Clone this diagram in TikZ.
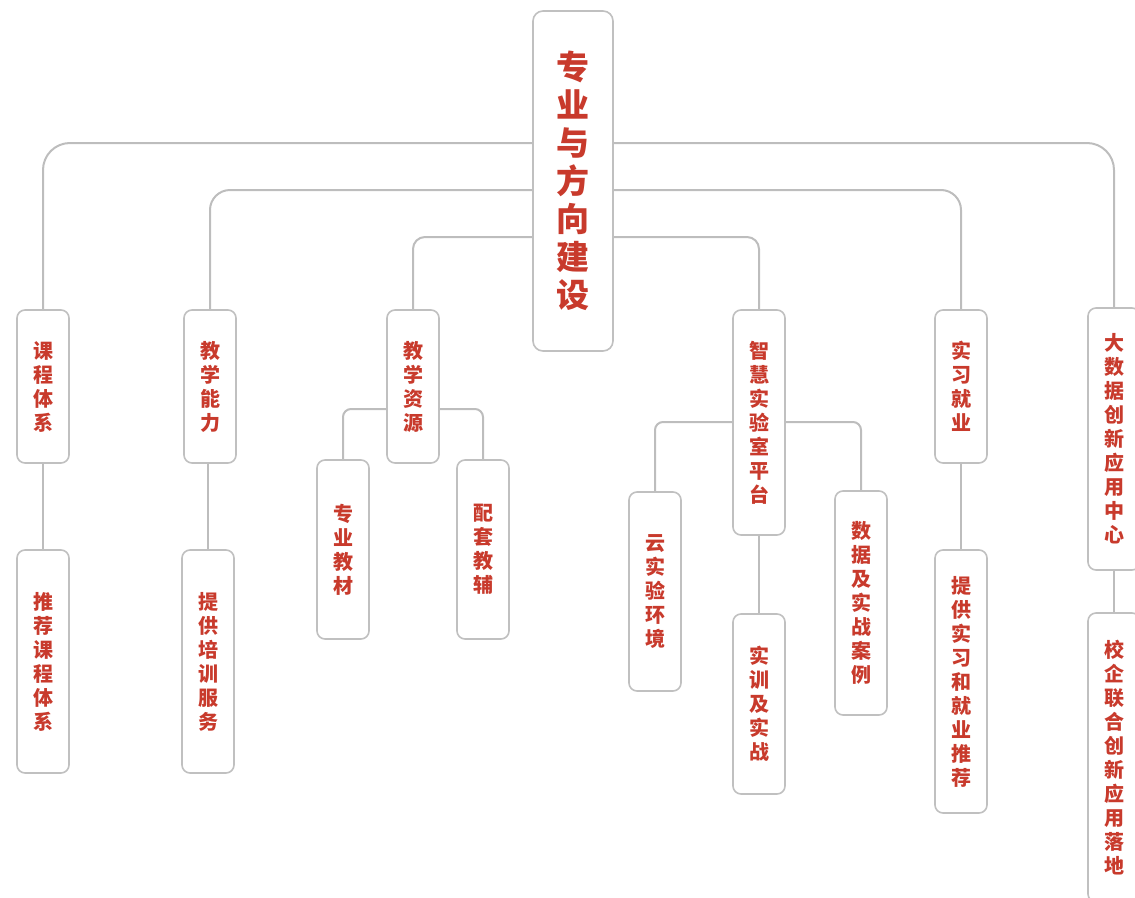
\documentclass[tikz,border=0pt]{standalone}
\usepackage{fontspec}
\newfontfamily\cjk{Noto Sans CJK SC}
\definecolor{txtred}{RGB}{200,58,44}
\definecolor{linegray}{RGB}{189,189,189}
\definecolor{boxgray}{RGB}{192,192,192}
\begin{document}
\begin{tikzpicture}[x=1pt,y=-1pt,
  box/.style={draw=boxgray, line width=1.6pt, fill=white, rounded corners=8pt,
    minimum width=52pt, inner sep=0pt, text=txtred, align=center,
    font=\cjk\bfseries\fontsize{20}{24}\selectfont},
  rootbox/.style={box, minimum width=80pt, rounded corners=10pt,
    font=\cjk\bfseries\fontsize{33}{38}\selectfont},
  conn/.style={draw=linegray, line width=2pt}]
\useasboundingbox (0,0) rectangle (1135,897);
\clip (0,0) rectangle (1135,897);
% nodes
\node[rootbox, minimum height=340pt] (root) at (573,181) {专\\业\\与\\方\\向\\建\\设};
\node[box, minimum height=153pt] (A1) at (43,386.5) {课\\程\\体\\系};
\node[box, minimum height=153pt] (A2) at (210,386.5) {教\\学\\能\\力};
\node[box, minimum height=153pt] (A3) at (413,386.5) {教\\学\\资\\源};
\node[box, minimum height=225pt] (A4) at (759,422.5) {智\\慧\\实\\验\\室\\平\\台};
\node[box, minimum height=153pt] (A5) at (961,386.5) {实\\习\\就\\业};
\node[box, minimum height=262pt] (A6) at (1114,439) {大\\数\\据\\创\\新\\应\\用\\中\\心};
\node[box, minimum height=223pt] (B1) at (43,661.5) {推\\荐\\课\\程\\体\\系};
\node[box, minimum height=223pt] (B2) at (208,661.5) {提\\供\\培\\训\\服\\务};
\node[box, minimum height=179pt] (B3) at (343,549.5) {专\\业\\教\\材};
\node[box, minimum height=179pt] (B4) at (483,549.5) {配\\套\\教\\辅};
\node[box, minimum height=199pt] (B5) at (655,591.5) {云\\实\\验\\环\\境};
\node[box, minimum height=180pt] (B6) at (759,704) {实\\训\\及\\实\\战};
\node[box, minimum height=224pt] (B7) at (861,603) {数\\据\\及\\实\\战\\案\\例};
\node[box, minimum height=263pt] (B8) at (961,681.5) {提\\供\\实\\习\\和\\就\\业\\推\\荐};
\node[box, minimum height=289pt] (B9) at (1114,757.5) {校\\企\\联\\合\\创\\新\\应\\用\\落\\地};
% connectors from root
\draw[conn, rounded corners=27pt] (root.west |- 0,143) -| (A1.north);
\draw[conn, rounded corners=20pt] (root.west |- 0,190) -| (A2.north);
\draw[conn, rounded corners=12pt] (root.west |- 0,237) -| (A3.north);
\draw[conn, rounded corners=12pt] (root.east |- 0,237) -| (A4.north);
\draw[conn, rounded corners=20pt] (root.east |- 0,190) -| (A5.north);
\draw[conn, rounded corners=27pt] (root.east |- 0,143) -| (A6.north);
% sub connectors
\draw[conn, rounded corners=8pt] (A3.west |- 0,409) -| (B3.north);
\draw[conn, rounded corners=8pt] (A3.east |- 0,409) -| (B4.north);
\draw[conn, rounded corners=8pt] (A4.west |- 0,422) -| (B5.north);
\draw[conn, rounded corners=8pt] (A4.east |- 0,422) -| (B7.north);
\draw[conn] (A1.south) -- (B1.north);
\draw[conn] (A2.south -| B2.north) -- (B2.north);
\draw[conn] (A4.south) -- (B6.north);
\draw[conn] (A5.south) -- (B8.north);
\draw[conn] (A6.south) -- (B9.north);
\end{tikzpicture}
\end{document}
